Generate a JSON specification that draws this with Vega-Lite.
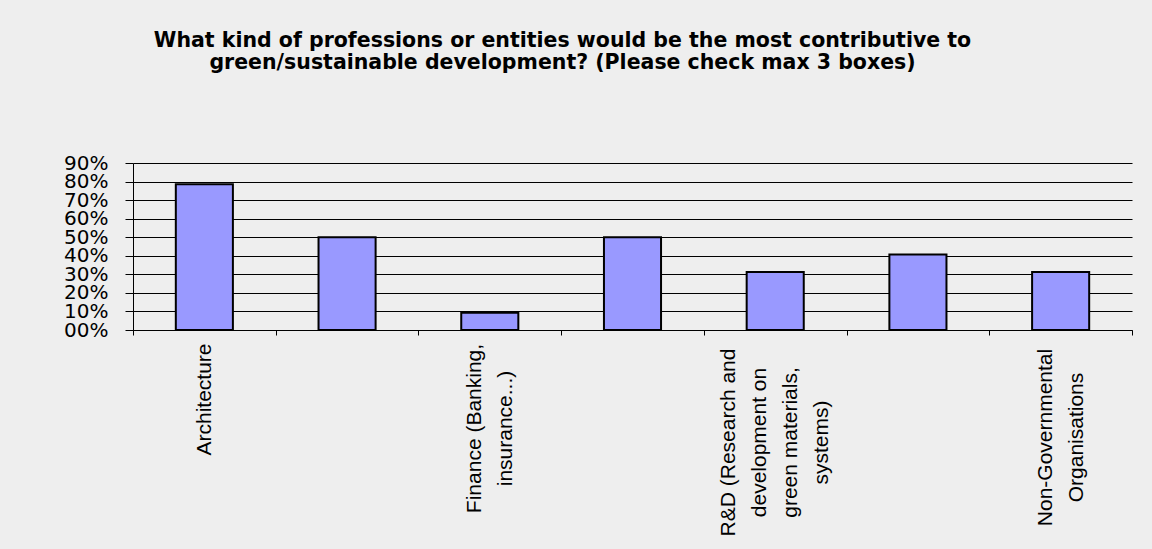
{
  "$schema": "https://vega.github.io/schema/vega-lite/v6.json",
  "width": 999,
  "height": 167,
  "autosize": {"type": "none"},
  "padding": {"left": 133, "top": 163, "right": 20, "bottom": 219},
  "background": "#EEEEEE",
  "title": {
    "text": ["What kind of professions or entities would be the most contributive to", "green/sustainable development? (Please check max 3 boxes)"],
    "font": "DejaVu Sans",
    "fontSize": 20.5,
    "fontWeight": "bold",
    "color": "#000000",
    "anchor": "middle",
    "dx": -70,
    "offset": 80,
    "lineHeight": 22
  },
  "data": {
    "values": [
      {"profession": "Architecture", "share": 0.785},
      {"profession": " ", "share": 0.5},
      {"profession": "Finance (Banking, insurance...)", "share": 0.093},
      {"profession": "  ", "share": 0.5},
      {"profession": "R&D (Research and development on green materials, systems)", "share": 0.313},
      {"profession": "   ", "share": 0.407},
      {"profession": "Non-Governmental Organisations", "share": 0.313}
    ]
  },
  "mark": {"type": "bar", "fill": "#9999FF", "stroke": "#000000", "strokeWidth": 2, "width": {"band": 0.4}},
  "encoding": {
    "x": {
      "field": "profession",
      "type": "nominal",
      "sort": null,
      "scale": {"paddingInner": 0, "paddingOuter": 0},
      "axis": {
        "title": null,
        "labelAngle": 270,
        "labelAlign": "center",
        "labelBaseline": "middle",
        "labelFont": "Liberation Sans",
        "labelFontSize": 21,
        "labelColor": "#000000",
        "labelLineHeight": 31,
        "labelOverlap": false,
        "labelLimit": 0,
        "labelPadding": {
          "condition": [
            {"test": "datum.value === 'Architecture'", "value": 64},
            {"test": "datum.value === 'Finance (Banking, insurance...)'", "value": 93},
            {"test": "datum.value === 'Non-Governmental Organisations'", "value": 102}
          ],
          "value": 107
        },
        "labelOffset": {
          "condition": [
            {"test": "datum.value === 'Finance (Banking, insurance...)'", "value": -15.5},
            {"test": "datum.value === 'Non-Governmental Organisations'", "value": -15.5},
            {"test": "datum.value === 'R&D (Research and development on green materials, systems)'", "value": -46.5}
          ],
          "value": 0
        },
        "labelExpr": "datum.value === 'Finance (Banking, insurance...)' ? ['Finance (Banking,', 'insurance...)'] : datum.value === 'R&D (Research and development on green materials, systems)' ? ['R&D (Research and', 'development on', 'green materials,', 'systems)'] : datum.value === 'Non-Governmental Organisations' ? ['Non-Governmental', 'Organisations'] : datum.label",
        "tickBand": "extent",
        "ticks": true,
        "tickSize": 5,
        "tickColor": "#000000",
        "domainColor": "#000000",
        "domainWidth": 1,
        "grid": false
      }
    },
    "y": {
      "field": "share",
      "type": "quantitative",
      "scale": {"domain": [0, 0.9], "nice": false, "zero": true},
      "axis": {
        "title": null,
        "values": [0, 0.1, 0.2, 0.3, 0.4, 0.5, 0.6, 0.7, 0.8, 0.9],
        "labelExpr": "datum.value == 0 ? '00%' : format(datum.value, '.0%')",
        "labelFont": "DejaVu Sans",
        "labelFontSize": 20,
        "labelColor": "#000000",
        "labelPadding": 17,
        "labelOverlap": false,
        "tickSize": 8,
        "tickColor": "#000000",
        "domainColor": "#000000",
        "grid": true,
        "gridColor": "#000000",
        "gridOpacity": 1,
        "gridWidth": 1
      }
    }
  },
  "config": {"view": {"stroke": null}, "font": "Liberation Sans"}
}
